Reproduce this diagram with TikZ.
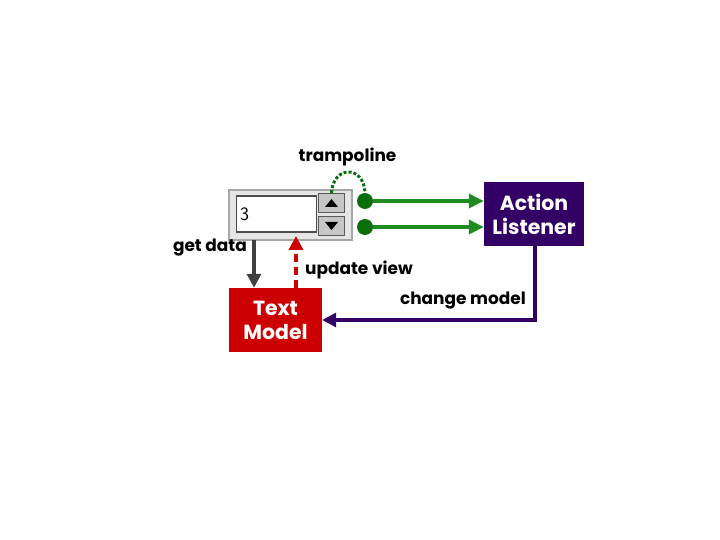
\documentclass[tikz,border=0pt]{standalone}
\usepackage{fontspec}
\setmainfont{Poppins}
\usetikzlibrary{arrows.meta}
\definecolor{dgreen}{HTML}{0A6E0A}
\definecolor{agreen}{HTML}{1E8C1E}
\definecolor{purp}{HTML}{330066}
\definecolor{tred}{HTML}{CC0000}
\definecolor{dgray}{HTML}{404040}
\begin{document}
\begin{tikzpicture}[x=1bp,y=-1bp,
  box/.style={minimum width=#1, align=center, text=white, font=\fontsize{20.5}{26}\selectfont\bfseries, inner sep=0pt},
  lbl/.style={font=\fontsize{17}{18}\selectfont\bfseries, inner sep=0pt},
  btn/.style={draw=gray!70!black, fill=gray!45, line width=1pt, minimum width=26bp, minimum height=19bp, inner sep=0pt},
  dot/.style={circle, fill=dgreen, minimum size=16bp, inner sep=0pt}]
\useasboundingbox (0,0) rectangle (720,540);
% widget
\node[draw=gray!70, fill=gray!20, line width=1.5pt, minimum width=123bp, minimum height=50bp, inner sep=0pt] (w) at (290.5,215) {};
\node[draw=gray!60!black, fill=white, line width=1.2pt, minimum width=80bp, minimum height=36bp, anchor=west, inner sep=0pt] (tf) at (236,214) {};
\node[anchor=west, font=\fontsize{19}{21}\selectfont\sffamily, inner sep=0pt] (three) at (240,214) {3};
\node[btn] (up) at (331.5,203) {};
\node[btn] (dn) at (331.5,226) {};
\fill (325,207) -- (338,207) -- (331.5,199) -- cycle;
\fill (325,222) -- (338,222) -- (331.5,230) -- cycle;
% boxes
\node[box=100bp, minimum height=64bp, fill=purp] (al) at (534,214) {Action\\[-2pt]Listener};
\node[box=93bp, minimum height=64bp, fill=tred] (tm) at (275.5,320) {Text\\[-2pt]Model};
% dots
\node[dot] (d1) at (365,201) {};
\node[dot] (d2) at (365,227) {};
\draw[agreen, line width=3.4pt, -{Triangle[length=15bp,width=14bp]}] (d1) -- (d1 -| al.west);
\draw[agreen, line width=3.4pt, -{Triangle[length=15bp,width=14bp]}] (d2) -- (d2 -| al.west);
% trampoline
\draw[dgreen, line width=3pt, dotted] (up.north) .. controls (333,165) and (364,165) .. (d1.north);
\node[lbl] (tr) at (347.5,157) {trampoline};
% get data
\coordinate (gd) at (254,240);
\draw[dgray, line width=3.4pt, -{Triangle[length=14bp,width=14bp]}] (gd) -- (gd |- tm.north);
\node[lbl, anchor=east] (gdl) at (247,248) {get data};
% update view
\coordinate (uv) at (296,288);
\draw[tred, line width=3.4pt, dash pattern=on 8pt off 5pt, -{Triangle[length=14bp,width=14bp]}] (uv) -- (296,236);
\node[lbl, anchor=west] (uvl) at (305,270) {update view};
% change model
\coordinate (cm) at (535,320);
\draw[purp, line width=3.2pt, -{Triangle[length=14bp,width=14bp]}] (535,246) -- (cm) -- (tm.east |- cm);
\node[lbl, anchor=east] (cml) at (526,301) {change model};
\end{tikzpicture}
\end{document}
